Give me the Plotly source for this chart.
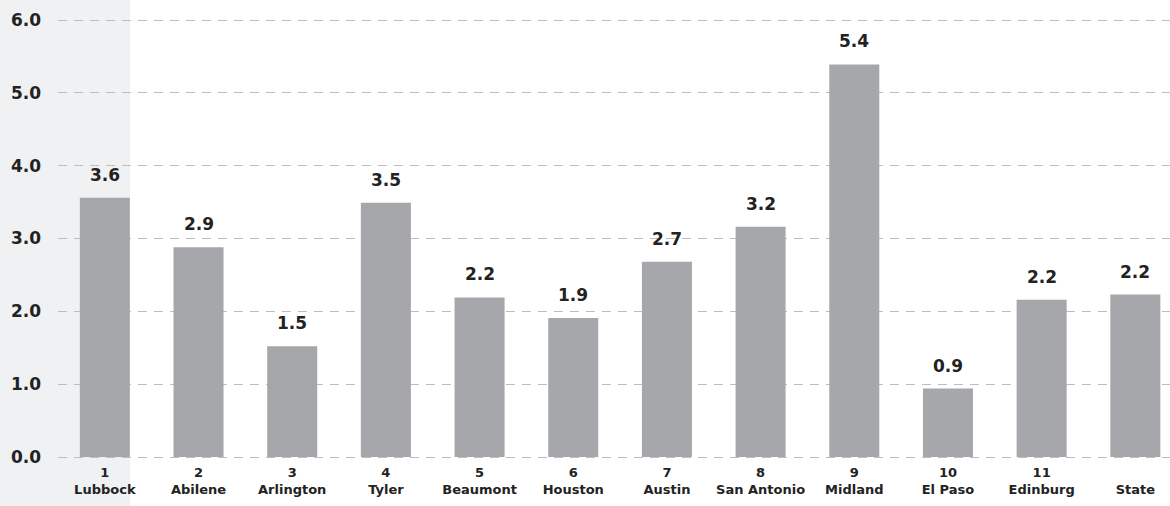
import plotly.graph_objects as go

regions = ["1<br>Lubbock", "2<br>Abilene", "3<br>Arlington", "4<br>Tyler", "5<br>Beaumont",
           "6<br>Houston", "7<br>Austin", "8<br>San Antonio", "9<br>Midland", "10<br>El Paso",
           "11<br>Edinburg", "<br>State"]
values = [3.56, 2.88, 1.52, 3.49, 2.19, 1.91, 2.68, 3.16, 5.39, 0.94, 2.16, 2.23]
labels = ["3.6", "2.9", "1.5", "3.5", "2.2", "1.9", "2.7", "3.2", "5.4", "0.9", "2.2", "2.2"]
y_ticks = [0, 1, 2, 3, 4, 5, 6]
y_tick_text = ["0.0", "1.0", "2.0", "3.0", "4.0", "5.0", "6.0"]

FONT = "DejaVu Sans"
W, H = 1170, 506
ML, MR, MT, MB = 58, 0, 18, 47
pw, ph = W - ML - MR, H - MT - MB
pad_units = 2 / 72.8

fig = go.Figure()
fig.add_trace(go.Bar(
    x=list(range(len(regions))), y=values,
    marker=dict(color="#a6a7aa", line=dict(width=0)),
    hoverinfo="skip",
))

for i, (v, t) in enumerate(zip(values, labels)):
    fig.add_annotation(x=i, y=v, text=t, showarrow=False, yanchor="bottom", yshift=11,
                       font=dict(family=FONT, size=17, color="#222222", weight="bold"))

fig.add_shape(type="rect", xref="paper", yref="paper",
              x0=-ML / pw, x1=(130 - ML) / pw, y0=-MB / ph, y1=1 + MT / ph,
              fillcolor="#f0f1f3", line=dict(width=0), layer="below")

fig.update_layout(
    width=W, height=H,
    margin=dict(l=ML, r=MR, t=MT, b=MB, pad=0),
    paper_bgcolor="white", plot_bgcolor="rgba(0,0,0,0)",
    bargap=0.466, showlegend=False,
    xaxis=dict(
        tickmode="array", tickvals=list(range(len(regions))), ticktext=regions,
        range=[-0.5, 11.37], showgrid=False, zeroline=False, showline=False, ticks="",
        ticklabelstandoff=4,
        tickfont=dict(family=FONT, size=13, color="#222222", weight="bold"),
    ),
    yaxis=dict(
        range=[-pad_units, 6 + pad_units], tickmode="array", tickvals=y_ticks, ticktext=y_tick_text,
        showgrid=True, gridcolor="#bdbdbd", griddash="9px,7px", gridwidth=1,
        zeroline=False, showline=False, ticks="", ticklabelstandoff=16,
        tickfont=dict(family=FONT, size=17, color="#222222", weight="bold"),
    ),
)

fig.write_html("out.html", config={"displayModeBar": False},
               post_script="document.body.style.margin='0';")
